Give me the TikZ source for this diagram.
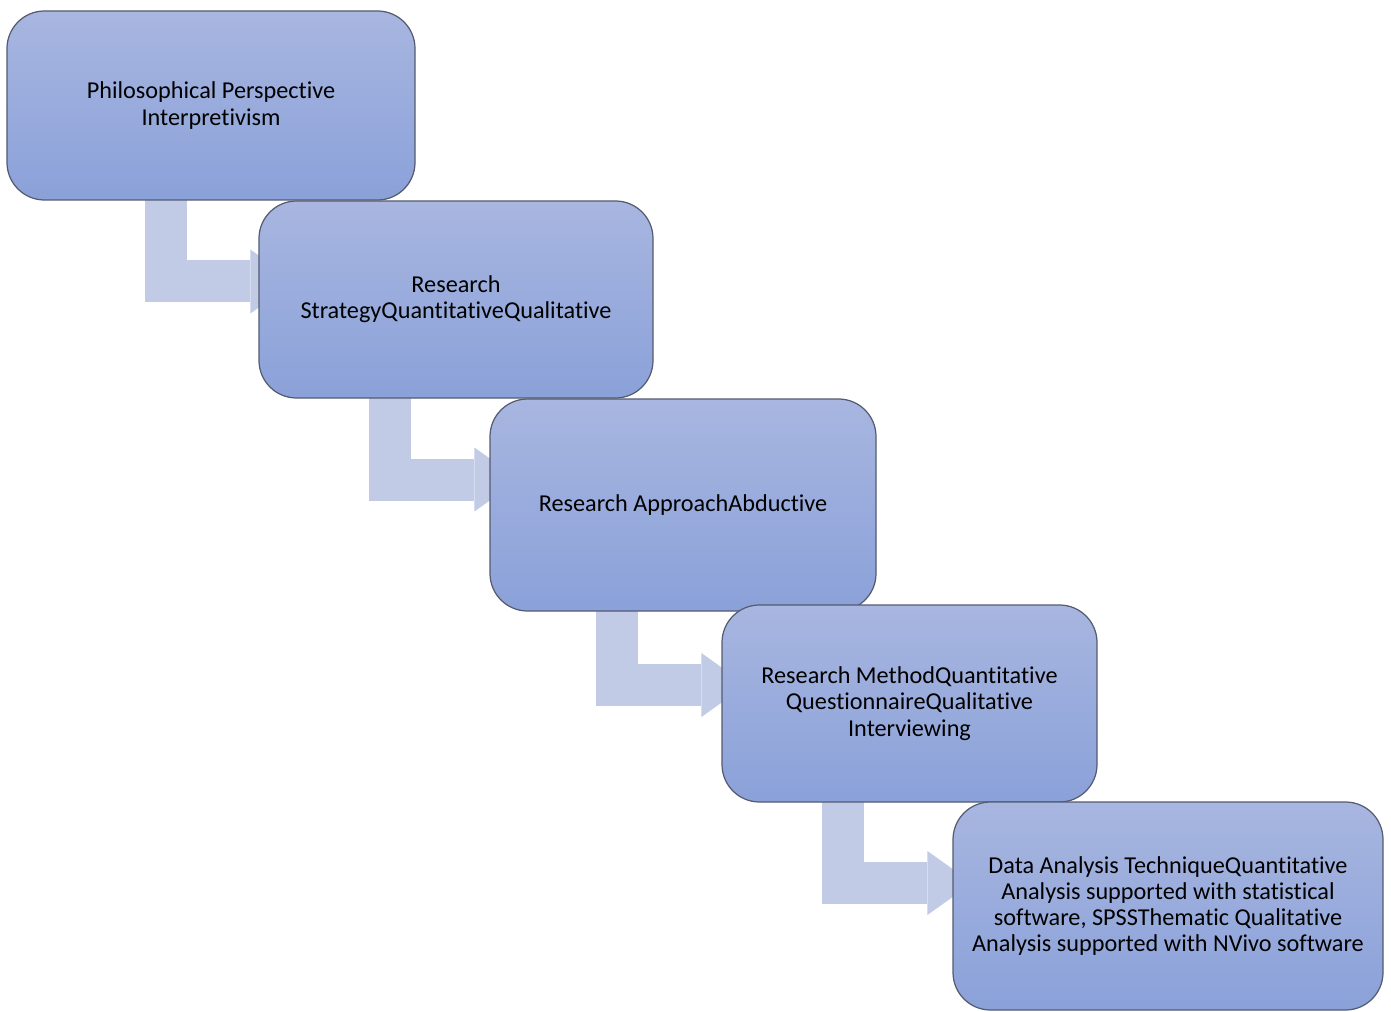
\documentclass[tikz,border=0pt]{standalone}
\usepackage{fontspec}
\setmainfont[Ligatures=NoCommon]{Carlito}
\usepackage{tikz}
\usetikzlibrary{arrows.meta,calc,positioning,backgrounds}
\definecolor{stagetop}{HTML}{A8B6E0}
\definecolor{stagebottom}{HTML}{8AA1D9}
\definecolor{stageedge}{HTML}{555B70}
\definecolor{flowblue}{HTML}{C1CBE6}
\tikzset{
  stagebox/.style={draw=stageedge,line width=0.7pt,top color=stagetop,bottom color=stagebottom,rounded corners=7.5mm,align=center,inner sep=2mm,font=\fontsize{13.8}{14.9}\selectfont},
  flowarrow/.style={line width=8.4mm,flowblue,-{Triangle[width=12.8mm,length=9mm,line width=0pt]}}
}

\begin{document}
\begin{tikzpicture}
  \useasboundingbox (0,0) rectangle (27.82,-20.24);
  \node[stagebox,minimum width=8.16cm,minimum height=3.78cm] (philo) at (4.22,-2.11) {Philosophical Perspective\\Interpretivism};
  \node[stagebox,minimum width=7.88cm,minimum height=3.94cm] (strategy) at (9.12,-5.99) {Research\\StrategyQuantitativeQualitative};
  \node[stagebox,minimum width=7.72cm,minimum height=4.24cm] (approach) at (13.66,-10.10) {Research ApproachAbductive};
  \node[stagebox,minimum width=7.50cm,minimum height=3.94cm] (method) at (18.19,-14.07) {Research MethodQuantitative\\QuestionnaireQualitative\\Interviewing};
  \node[stagebox,minimum width=8.60cm,minimum height=4.16cm] (analysis) at (23.36,-18.12) {Data Analysis TechniqueQuantitative\\Analysis supported with statistical\\software, SPSSThematic Qualitative\\Analysis supported with NVivo software};
  % bent arrows behind the boxes
  \begin{scope}[on background layer]
    \draw[flowarrow] ($(philo.south west)+(3.20,0.1)$) |- ($(strategy.west)+(0.74,0.36)$);
    \draw[flowarrow] ($(strategy.south west)+(2.64,0.1)$) |- ($(approach.west)+(0.60,0.51)$);
    \draw[flowarrow] ($(approach.south west)+(2.56,0.1)$) |- ($(method.west)+(0.50,0.37)$);
    \draw[flowarrow] ($(method.south west)+(2.44,0.1)$) |- ($(analysis.west)+(0.40,0.46)$);
  \end{scope}
\end{tikzpicture}
\end{document}
